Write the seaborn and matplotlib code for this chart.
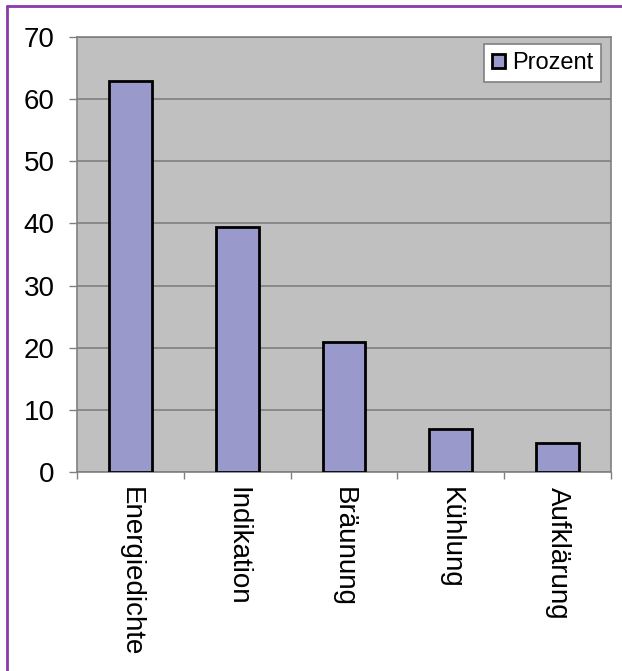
import matplotlib
matplotlib.use("Agg")
import matplotlib.pyplot as plt
from matplotlib.lines import Line2D
from matplotlib.ticker import FixedLocator
import seaborn as sns
import pandas as pd

kategorien = ["Energiedichte", "Indikation", "Bräunung", "Kühlung", "Aufklärung"]
prozent = [63.0, 39.5, 21.0, 7.0, 4.6]
y_ticks = [0, 10, 20, 30, 40, 50, 60, 70]

df = pd.DataFrame({"Kategorie": kategorien, "Prozent": prozent})

sns.set_style("white")
plt.rcParams["font.family"] = ["Liberation Sans", "DejaVu Sans"]

fig = plt.figure(figsize=(6.22, 6.71), dpi=100)
ax = fig.add_axes([77 / 622, 1 - 472 / 671, (611 - 77) / 622, (472 - 37) / 671])
ax.set_facecolor("#c0c0c0")

sns.barplot(data=df, x="Kategorie", y="Prozent", color="#9999cc",
            saturation=1, edgecolor="black", linewidth=2.0, width=0.4,
            label="Prozent", ax=ax, zorder=3)

ax.set_ylim(0, 70)
ax.set_xlim(-0.5, len(kategorien) - 0.5)
ax.set_yticks(y_ticks)
ax.yaxis.grid(True, color="#808080", linewidth=1.2, zorder=1)
ax.set_axisbelow(True)
ax.set_xlabel("")
ax.set_ylabel("")

for side in ["left", "bottom", "right", "top"]:
    ax.spines[side].set_visible(True)
    ax.spines[side].set_color("#808080")
    ax.spines[side].set_linewidth(1.2)

ax.tick_params(axis="y", left=True, length=6, width=1, color="#808080",
               labelsize=20, pad=10, labelcolor="black")
ax.tick_params(axis="x", which="major", bottom=False, length=0,
               labelsize=20, pad=11, labelcolor="black")
ax.xaxis.set_minor_locator(FixedLocator([i + 0.5 for i in range(-1, len(kategorien))]))
ax.tick_params(axis="x", which="minor", bottom=True, length=5, width=1, color="#808080")
for lbl in ax.get_xticklabels():
    lbl.set_rotation(270)
    lbl.set_ha("center")
    lbl.set_va("top")

leg = ax.legend(loc="upper right", bbox_to_anchor=(0.982, 0.984), fontsize=17,
                frameon=True, fancybox=False, handlelength=0.55, handleheight=0.55,
                handletextpad=0.3, borderpad=0.35, borderaxespad=0)
leg.get_frame().set_edgecolor("#808080")
leg.get_frame().set_linewidth(1.2)
leg.get_frame().set_facecolor("white")
leg.get_frame().set_alpha(1)
for t in leg.get_texts():
    t.set_color("black")

# purple frame along the left and top edges
fig.add_artist(Line2D([7 / 622, 7 / 622], [0, 1 - 6 / 671], transform=fig.transFigure,
                      color="#8a3aa8", linewidth=2))
fig.add_artist(Line2D([7 / 622, 1], [1 - 6 / 671, 1 - 6 / 671], transform=fig.transFigure,
                      color="#8a3aa8", linewidth=2))

fig.savefig("out.png", dpi=100, facecolor="white")
